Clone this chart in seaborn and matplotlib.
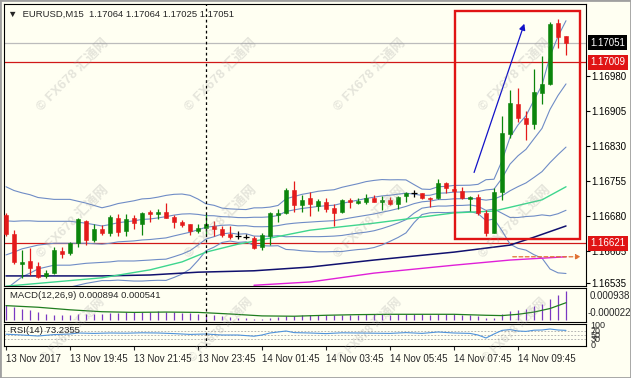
import numpy as np
import pandas as pd
import matplotlib
matplotlib.use("Agg")
import matplotlib.pyplot as plt
import seaborn as sns
from matplotlib.patches import Rectangle

sns.set_style("white")
plt.rcParams['font.family'] = ['Liberation Sans', 'Noto Sans CJK SC', 'DejaVu Sans']

# EURUSD M15 candles, 13 Nov 17:45 -> 14 Nov 11:15
open_ = [1.16682, 1.16641, 1.16576, 1.16583, 1.16572, 1.16551, 1.16557, 1.16604, 1.16600, 1.16621,
         1.16669, 1.16628, 1.16652, 1.16643, 1.16675, 1.16647, 1.16675, 1.16662, 1.16688, 1.16684,
         1.16688, 1.16677, 1.16667, 1.16662, 1.16647, 1.16654, 1.16658, 1.16652, 1.16641, 1.16636,
         1.16634, 1.16632, 1.16613, 1.16636, 1.16682, 1.16686, 1.16735, 1.16703, 1.16718, 1.16701,
         1.16709, 1.16697, 1.16688, 1.16714, 1.16707, 1.16709, 1.16718, 1.16709, 1.16714, 1.16705,
         1.16722, 1.16729, 1.16729, 1.16718, 1.16718, 1.16750, 1.16737, 1.16733, 1.16716, 1.16720,
         1.16686, 1.16643, 1.16731, 1.16855, 1.16919, 1.16889, 1.16877, 1.16943, 1.16962, 1.17093, 1.17064]
high = [1.16686, 1.16649, 1.16606, 1.16611, 1.16581, 1.16564, 1.16613, 1.16613, 1.16624, 1.16675,
        1.16671, 1.16662, 1.16660, 1.16682, 1.16684, 1.16684, 1.16682, 1.16688, 1.16692, 1.16694,
        1.16707, 1.16682, 1.16671, 1.16662, 1.16662, 1.16684, 1.16669, 1.16658, 1.16658, 1.16647,
        1.16641, 1.16636, 1.16643, 1.16688, 1.16694, 1.16739, 1.16754, 1.16724, 1.16731, 1.16716,
        1.16718, 1.16705, 1.16716, 1.16718, 1.16718, 1.16726, 1.16724, 1.16722, 1.16720, 1.16722,
        1.16731, 1.16735, 1.16729, 1.16720, 1.16759, 1.16752, 1.16744, 1.16742, 1.16722, 1.16726,
        1.16692, 1.16739, 1.16894, 1.16949, 1.16954, 1.16904, 1.16994, 1.17022, 1.17095, 1.17101, 1.17064]
low = [1.16636, 1.16576, 1.16547, 1.16553, 1.16547, 1.16547, 1.16555, 1.16589, 1.16596, 1.16613,
       1.16617, 1.16624, 1.16639, 1.16636, 1.16636, 1.16636, 1.16652, 1.16639, 1.16667, 1.16673,
       1.16675, 1.16654, 1.16656, 1.16639, 1.16643, 1.16639, 1.16636, 1.16634, 1.16630, 1.16630,
       1.16630, 1.16609, 1.16606, 1.16617, 1.16667, 1.16684, 1.16688, 1.16688, 1.16679, 1.16690,
       1.16688, 1.16658, 1.16686, 1.16697, 1.16705, 1.16705, 1.16709, 1.16692, 1.16703, 1.16694,
       1.16709, 1.16720, 1.16716, 1.16699, 1.16716, 1.16729, 1.16731, 1.16716, 1.16690, 1.16682,
       1.16636, 1.16643, 1.16714, 1.16847, 1.16881, 1.16842, 1.16866, 1.16919, 1.16960, 1.17039, 1.17025]
close = [1.16641, 1.16581, 1.16581, 1.16568, 1.16549, 1.16557, 1.16606, 1.16598, 1.16621, 1.16673,
         1.16628, 1.16652, 1.16643, 1.16677, 1.16645, 1.16673, 1.16664, 1.16686, 1.16684, 1.16688,
         1.16675, 1.16667, 1.16660, 1.16647, 1.16654, 1.16662, 1.16652, 1.16639, 1.16634, 1.16636,
         1.16634, 1.16611, 1.16639, 1.16686, 1.16686, 1.16735, 1.16703, 1.16714, 1.16705, 1.16711,
         1.16694, 1.16686, 1.16714, 1.16709, 1.16711, 1.16718, 1.16709, 1.16714, 1.16705, 1.16720,
         1.16729, 1.16729, 1.16718, 1.16716, 1.16750, 1.16739, 1.16733, 1.16718, 1.16720, 1.16686,
         1.16643, 1.16731, 1.16857, 1.16922, 1.16889, 1.16877, 1.16945, 1.16962, 1.17091, 1.17063, 1.17051]

# Bollinger(20) values for the first bars (window not full yet)
bb_mid_head = [1.16596, 1.16602, 1.16609, 1.16613, 1.16617, 1.16619, 1.16621, 1.16621, 1.16621, 1.16621,
               1.16621, 1.16620, 1.16619, 1.16621, 1.16624, 1.16625, 1.16626, 1.16628, 1.16629]
bb_sd_head = [0.00073, 0.00066, 0.00060, 0.00056, 0.00051, 0.00049, 0.00047, 0.00047, 0.00047, 0.00045,
              0.00043, 0.00041, 0.00039, 0.00040, 0.00041, 0.00042, 0.00043, 0.00044, 0.00044]

# moving averages, read at sample bars
ma_green_bars = [0, 6, 12, 18, 22, 25, 29, 33, 38, 46, 56, 61, 67, 70]
ma_green = [1.16529, 1.16538, 1.16547, 1.16564, 1.16581, 1.16602, 1.16619, 1.16632, 1.16649, 1.16664,
            1.16686, 1.16690, 1.16714, 1.16742]
ma_navy_bars = [0, 6, 12, 18, 24, 31, 38, 46, 56, 63, 66, 70]
ma_navy = [1.16551, 1.16551, 1.16551, 1.16553, 1.16559, 1.16562, 1.16570, 1.16585, 1.16602, 1.16617,
           1.16634, 1.16658]
ma_pink_bars = [31, 38, 46, 56, 63, 70]
ma_pink = [1.16531, 1.16538, 1.16557, 1.16574, 1.16585, 1.16592]

# MACD(12,26,9): main as histogram, signal as line (x 1e-5)
macd_main = [48, 42, 36, 30, 24, 19, 17, 16, 16, 20, 19, 20, 20, 23, 22, 24, 24, 26, 26, 27,
             26, 25, 23, 21, 19, 17, 15, 12, 10, 8, 6, 3, 3, 7, 9, 13, 14, 15, 16, 17,
             17, 16, 17, 17, 17, 18, 18, 18, 17, 18, 19, 19, 18, 17, 19, 19, 18, 17, 16, 13,
             8, 8, 18, 28, 32, 35, 43, 50, 65, 77, 89.4]
macd_sig_bars = [0, 4, 8, 12, 16, 20, 24, 28, 32, 36, 40, 44, 48, 52, 56, 60, 62, 64, 66, 68, 70]
macd_sig = [45, 40, 32, 26, 24, 25, 24, 19, 13, 12, 15, 17, 18, 18, 18, 15, 14, 18, 25, 36, 54.1]

# RSI(14), read at sample bars
rsi_bars = [0, 2, 4, 6, 8, 9, 11, 13, 15, 17, 19, 21, 23, 25, 27, 29, 31, 32, 33, 35, 36, 38,
            40, 42, 44, 46, 48, 50, 52, 54, 56, 58, 59, 60, 61, 62, 63, 64, 65, 66, 67, 68, 69, 70]
rsi = [54, 50, 45, 52, 55, 60, 58, 60, 59, 61, 60, 57, 53, 55, 50, 50, 44, 50, 60, 70, 62, 60,
       57, 61, 60, 59, 58, 62, 58, 65, 60, 58, 50, 35, 55, 73, 77, 70, 68, 74, 75, 80, 75, 73.2]

time_ticks = [0, 8, 16, 24, 32, 40, 48, 56, 64]
time_labels = ["13 Nov 2017", "13 Nov 19:45", "13 Nov 21:45", "13 Nov 23:45", "14 Nov 01:45",
               "14 Nov 03:45", "14 Nov 05:45", "14 Nov 07:45", "14 Nov 09:45"]
price_ticks = [1.16535, 1.16605, 1.16680, 1.16755, 1.16830, 1.16905, 1.16980]

BG = "#fffff2"
BULL, BEAR = "#0b850b", "#e41a1a"
BAND = "#6f8cc6"

W, H = 631, 378


def box(x0, y0, x1, y1):
    return [x0 / W, 1 - y1 / H, (x1 - x0) / W, (y1 - y0) / H]


fig = plt.figure(figsize=(6.31, 3.78), dpi=100, facecolor=BG)
ax = fig.add_axes(box(4, 4, 586, 286), facecolor=BG)
axm = fig.add_axes(box(4, 288, 586, 322), facecolor=BG)
axr = fig.add_axes(box(4, 324, 586, 346), facecolor=BG)

n = len(close)
idx = np.arange(n)

# Bollinger bands 20, deviations 1 and 2
cl = pd.Series(close)
mid = cl.rolling(20).mean().to_numpy()
sd = cl.rolling(20).std(ddof=0).to_numpy()
mid[:19] = bb_mid_head
sd[:19] = bb_sd_head
bands = pd.concat([pd.DataFrame({"bar": idx, "price": mid + k * sd, "band": k}) for k in (-2, -1, 0, 1, 2)])
sns.lineplot(data=bands, x="bar", y="price", units="band", estimator=None, color=BAND, lw=0.8, ax=ax)

sns.lineplot(x=ma_pink_bars, y=ma_pink, color="#e020d8", lw=1.0, ax=ax)
sns.lineplot(x=ma_navy_bars, y=ma_navy, color="#10106e", lw=1.1, ax=ax)
sns.lineplot(x=ma_green_bars, y=ma_green, color="#3ed68e", lw=1.0, ax=ax)

# horizontal levels
ax.axhline(1.17051, color="#bcbcbc", lw=0.9, zorder=1)
ax.axhline(1.17009, color="#d01818", lw=0.9, zorder=1)
ax.axhline(1.16621, color="#d01818", lw=0.9, zorder=1)

# candles
o = np.array(open_)
c = np.array(close)
cols = np.where(c > o, BULL, np.where(c < o, BEAR, "black"))
ax.vlines(idx, low, high, colors=cols, lw=0.9, zorder=3)
ax.bar(idx, np.abs(c - o), bottom=np.minimum(o, c), width=0.62, color=cols,
       edgecolor=cols, lw=0.4, zorder=4)
doji = c == o
ax.hlines(c[doji], idx[doji] - 0.35, idx[doji] + 0.35, colors="black", lw=0.9, zorder=4)

# drawn objects
ax.add_patch(Rectangle((56.1, 1.16630), 15.65, 0.00489, fill=False, ec="#e01414", lw=1.7, zorder=5))
ax.annotate("", xy=(64.9, 1.17097), xytext=(58.4, 1.16767),
            arrowprops=dict(arrowstyle="-|>", color="#1212c8", lw=0.9, mutation_scale=9), zorder=5)
ax.annotate("", xy=(72.2, 1.16592), xytext=(63.0, 1.16592),
            arrowprops=dict(arrowstyle="-|>", color="#e07030", lw=0.9, ls=(0, (3, 2)), mutation_scale=7), zorder=5)

ax.set_xlim(-0.25, 72.5)
ax.set_ylim(1.165294, 1.171336)
ax.yaxis.tick_right()
ax.set_yticks(price_ticks)
ax.set_yticklabels([f"{p:.5f}" for p in price_ticks])
ax.tick_params(axis="y", length=3, width=0.8, pad=1, labelsize=7, colors="black")
ax.tick_params(axis="x", bottom=False, labelbottom=False)
ax.set(xlabel="", ylabel="")

for p, txt, fc in [(1.17051, "1.17051", "black"), (1.17009, "1.17009", "#e01414"), (1.16621, "1.16621", "#e01414")]:
    ax.annotate(txt, xy=(1, p), xycoords=ax.get_yaxis_transform(), xytext=(3, 0), textcoords="offset points",
                va="center", ha="left", fontsize=7, color="white", annotation_clip=False,
                bbox=dict(boxstyle="square,pad=0.25", fc=fc, ec="none"))

ax.text(0.007, 0.965, "\u25bc  EURUSD,M15  1.17064 1.17064 1.17025 1.17051", transform=ax.transAxes,
        fontsize=6.8, va="center", ha="left")

# MACD panel
axm.vlines(idx, 0, np.array(macd_main) * 1e-5, colors="#7a38c2", lw=0.9)
sns.lineplot(x=macd_sig_bars, y=np.array(macd_sig) * 1e-5, color="#1f7d1f", lw=0.9, ax=axm)
axm.set_xlim(-0.25, 72.5)
axm.set_ylim(-0.00006, 0.00100)
axm.set_xticks([])
axm.set_yticks([])
axm.set(xlabel="", ylabel="")
axm.text(0.01, 0.78, "MACD(12,26,9) 0.000894 0.000541", transform=axm.transAxes, fontsize=6.8, va="center")

# RSI panel
for lv in (30, 50, 70):
    axr.axhline(lv, color="#a8a8a8", lw=0.6, ls=(0, (2, 2)))
sns.lineplot(x=rsi_bars, y=rsi, color="#4f93dc", lw=0.8, ax=axr)
axr.set_xlim(-0.25, 72.5)
axr.set_ylim(-5, 105)
axr.set_yticks([])
axr.set_xticks(time_ticks)
axr.set_xticklabels(time_labels, ha="left")
axr.tick_params(axis="x", length=3, width=0.8, pad=2.5, labelsize=7, direction="out", bottom=True)
axr.set(xlabel="", ylabel="")
axr.text(0.01, 0.72, "RSI(14) 73.2355", transform=axr.transAxes, fontsize=6.8, va="center")

for a in (ax, axm, axr):
    a.axvline(25, color="black", lw=0.9, ls=(0, (2.2, 2.2)), zorder=6)
    for s in a.spines.values():
        s.set_color("black")
        s.set_linewidth(0.8)

# right scale labels of the sub windows
fig.text(590 / W, 1 - 296 / H, "0.000938", fontsize=7, va="center")
fig.text(588 / W, 1 - 313 / H, "-0.000022", fontsize=7, va="center")
for lv, txt in [(100, "100"), (70, "70"), (50, "50"), (30, "30"), (0, "0")]:
    axr.annotate(txt, xy=(1, lv), xycoords=axr.get_yaxis_transform(), xytext=(3, 0),
                 textcoords="offset points", fontsize=6.5, va="center", annotation_clip=False)

# watermark
for cx in (73, 221, 370, 515):
    for cy, fs in ((75, 9.5), (222, 9.5), (330, 8.5)):
        fig.text(cx / W, 1 - cy / H, "\u00a9 FX678 汇通网", fontsize=fs, weight="bold", color="#9a9a9a",
                 alpha=0.26, rotation=45, ha="center", va="center")

fig.patches.append(Rectangle((0, 0), 1, 1, transform=fig.transFigure, fill=False, ec="#a0a0a0", lw=2))

fig.savefig("out.png", dpi=100, facecolor=BG)
